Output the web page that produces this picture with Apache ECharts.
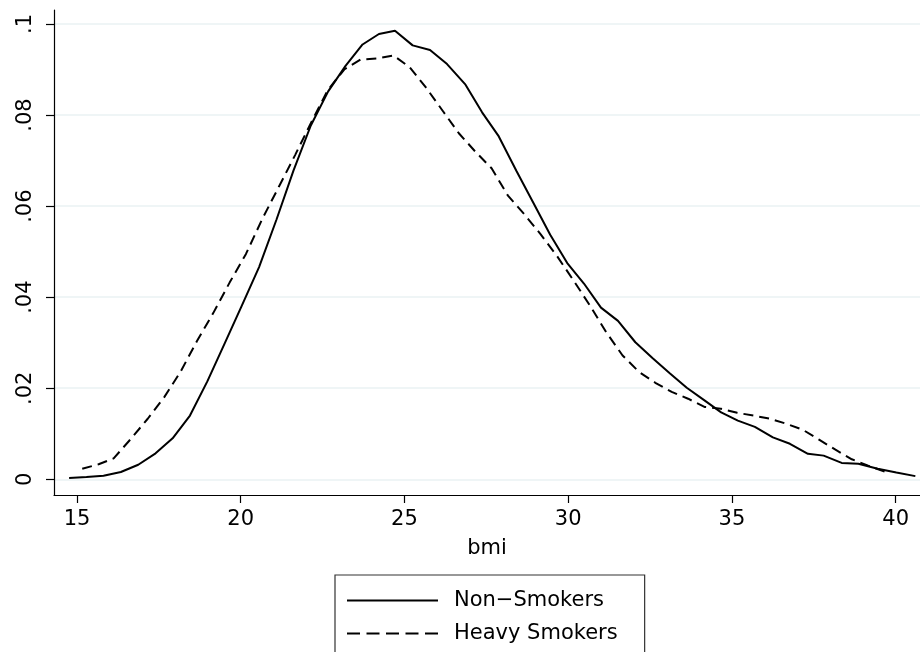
<!DOCTYPE html>
<html>
<head>
<meta charset="utf-8">
<script src="https://cdn.jsdelivr.net/npm/echarts@6/dist/echarts.min.js"></script>
<style>
html,body{margin:0;padding:0;background:#fff;}
#chart{width:920px;height:652px;}
</style>
</head>
<body>
<div id="chart"></div>
<script>
// ---- data ----
const seriesNames = ["Non\u2212Smokers", "Heavy Smokers"];
const nonSmokers = [
  [14.76,0.0003],[15.29,0.0005],[15.81,0.0008],[16.34,0.0016],[16.87,0.0032],
  [17.40,0.0057],[17.92,0.0090],[18.45,0.0140],[18.98,0.0215],[19.50,0.0297],
  [20.03,0.0381],[20.56,0.0466],[21.09,0.0570],[21.61,0.0678],[22.14,0.0777],
  [22.67,0.0852],[23.20,0.0908],[23.72,0.0955],[24.22,0.0978],[24.71,0.0985],
  [25.25,0.0953],[25.78,0.0943],[26.30,0.0912],[26.85,0.0868],[27.37,0.0806],
  [27.88,0.0753],[28.42,0.0677],[28.93,0.0608],[29.45,0.0537],[29.97,0.0475],
  [30.48,0.0430],[31.00,0.0377],[31.52,0.0348],[32.05,0.0301],[32.58,0.0266],
  [33.10,0.0233],[33.62,0.0201],[34.15,0.0174],[34.67,0.0147],[35.18,0.0129],
  [35.70,0.0115],[36.25,0.0092],[36.77,0.0078],[37.32,0.0056],[37.80,0.0052],
  [38.35,0.0036],[38.86,0.0034],[39.45,0.0023],[40.02,0.0015],[40.60,0.0007]
];
const heavySmokers = [
  [15.16,0.0023],[15.66,0.0033],[16.12,0.0046],[16.66,0.0090],[17.16,0.0133],
  [17.66,0.0180],[18.16,0.0236],[18.66,0.0303],[19.16,0.0365],[19.66,0.0432],
  [20.16,0.0495],[20.66,0.0572],[21.16,0.0642],[21.66,0.0712],[22.16,0.0785],
  [22.66,0.0855],[23.16,0.0900],[23.66,0.0922],[24.16,0.0924],[24.66,0.0931],
  [25.16,0.0905],[25.66,0.0860],[26.16,0.0810],[26.66,0.0760],[27.16,0.0720],
  [27.66,0.0683],[28.16,0.0623],[28.66,0.0582],[29.16,0.0538],[29.66,0.0490],
  [30.16,0.0437],[30.66,0.0382],[31.16,0.0323],[31.66,0.0272],[32.16,0.0236],
  [32.66,0.0212],[33.16,0.0192],[33.66,0.0177],[34.16,0.0159],[34.40,0.0157],
  [34.66,0.0155],[35.16,0.0146],[35.66,0.0140],[36.16,0.0133],[36.66,0.0122],
  [37.16,0.0109],[37.66,0.0087],[38.16,0.0065],[38.66,0.0044],[39.16,0.0030],
  [39.66,0.0017]
];
const xTicks = [15, 20, 25, 30, 35, 40];
const yTicks = [0, 0.02, 0.04, 0.06, 0.08, 0.1];
const xName = "bmi";

const FONT = "DejaVu Sans";
const chart = echarts.init(document.getElementById('chart'), null, {renderer: 'canvas'});
const fmtY = v => {
  if (Math.abs(v) < 1e-9) return "0";
  return String(+v.toFixed(2)).replace(/^0\./, ".");
};
chart.setOption({
  animation: false,
  backgroundColor: '#ffffff',
  grid: {left: 54, top: 10, right: 0, bottom: 157, containLabel: false},
  xAxis: {
    type: 'value',
    min: 14.298, max: 40.742,
    name: xName,
    nameLocation: 'middle',
    nameGap: 43,
    nameTextStyle: {color: '#000', fontFamily: FONT, fontSize: 21},
    axisLine: {show: true, onZero: false, lineStyle: {color: '#000', width: 1.2}},
    axisTick: {show: true, inside: false, length: 8, lineStyle: {color: '#000', width: 1.2}, customValues: xTicks},
    axisLabel: {show: true, color: '#000', fontFamily: FONT, fontSize: 21, margin: 14, customValues: xTicks},
    splitLine: {show: false}
  },
  yAxis: {
    type: 'value',
    min: -0.003448, max: 0.10307,
    axisLine: {show: true, onZero: false, lineStyle: {color: '#000', width: 1.2}},
    axisTick: {show: true, inside: false, length: 8, lineStyle: {color: '#000', width: 1.2}, customValues: yTicks},
    axisLabel: {show: true, color: '#000', fontFamily: FONT, fontSize: 21, margin: 18, rotate: 90,
      customValues: yTicks, formatter: fmtY},
    splitLine: {show: true, lineStyle: {color: '#eaf2f3', width: 1.5}}
  },
  legend: {
    show: true,
    orient: 'vertical',
    left: 335, top: 575,
    height: 200,
    padding: [15, 27, 15, 11],
    itemGap: 12,
    itemWidth: 91, itemHeight: 20,
    itemStyle: {opacity: 0},
    borderColor: '#333', borderWidth: 1.2, borderRadius: 0,
    backgroundColor: '#fff',
    textStyle: {color: '#000', fontFamily: FONT, fontSize: 21, padding: [0, 0, 0, 11]},
    data: [
      {name: seriesNames[0]},
      {name: seriesNames[1], lineStyle: {type: [13, 6.5]}}
    ]
  },
  series: [
    {
      name: seriesNames[0], type: 'line', data: nonSmokers,
      symbol: 'none', showSymbol: false, smooth: false,
      lineStyle: {color: '#000', width: 2, type: 'solid'},
      itemStyle: {color: '#000'}, z: 3
    },
    {
      name: seriesNames[1], type: 'line', data: heavySmokers,
      symbol: 'none', showSymbol: false, smooth: false,
      lineStyle: {color: '#000', width: 2, type: [10, 6]},
      itemStyle: {color: '#000'}, z: 2
    }
  ]
});
</script>
</body>
</html>
